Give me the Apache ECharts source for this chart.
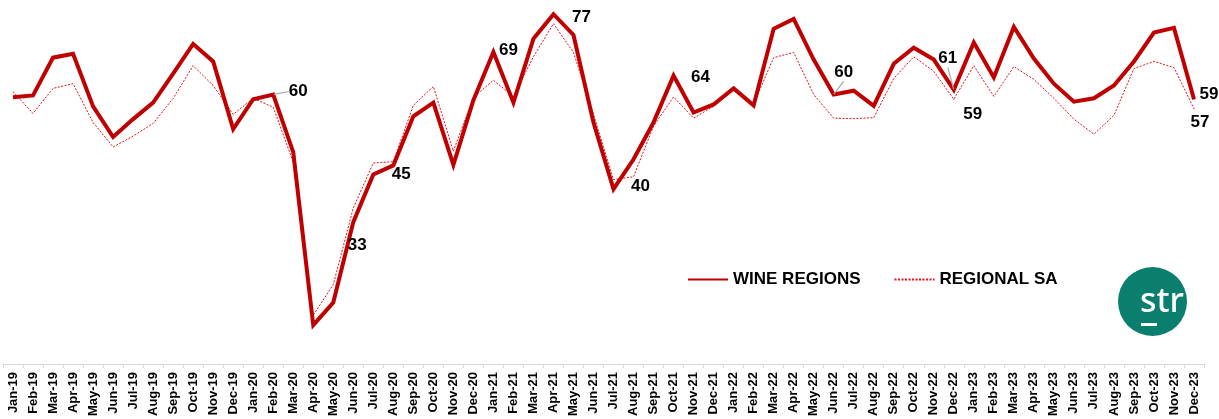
<!DOCTYPE html>
<html>
<head>
<meta charset="utf-8">
<title>Wine Regions vs Regional SA</title>
<script src="https://cdn.jsdelivr.net/npm/echarts@6/dist/echarts.min.js"></script>
<style>
  html, body { margin: 0; padding: 0; background: #ffffff; }
  #chart { width: 1219px; height: 419px; }
</style>
</head>
<body>
<div id="chart"></div>
<script>
// Monthly categories, Jan-19 to Dec-23
const months = [
  'Jan-19','Feb-19','Mar-19','Apr-19','May-19','Jun-19','Jul-19','Aug-19','Sep-19','Oct-19','Nov-19','Dec-19',
  'Jan-20','Feb-20','Mar-20','Apr-20','May-20','Jun-20','Jul-20','Aug-20','Sep-20','Oct-20','Nov-20','Dec-20',
  'Jan-21','Feb-21','Mar-21','Apr-21','May-21','Jun-21','Jul-21','Aug-21','Sep-21','Oct-21','Nov-21','Dec-21',
  'Jan-22','Feb-22','Mar-22','Apr-22','May-22','Jun-22','Jul-22','Aug-22','Sep-22','Oct-22','Nov-22','Dec-22',
  'Jan-23','Feb-23','Mar-23','Apr-23','May-23','Jun-23','Jul-23','Aug-23','Sep-23','Oct-23','Nov-23','Dec-23'
];

// WINE REGIONS
const wineRegions = [
  59.4, 59.8, 67.8, 68.6, 57.5, 51.0, 54.8, 58.3, 64.4, 70.7, 67.0, 52.7,
  59.0, 60,   47.8, 11.2, 16.0, 33,   43.1, 45,   55.4, 58.3, 45.1, 58.8,
  69,   58.3, 71.8, 77,   72.6, 54.1, 40,   46.3, 54.1, 64,   56.2, 57.9,
  61.3, 57.7, 73.9, 76.0, 67.4, 60,   60.8, 57.6, 66.5, 69.9, 67.4, 61,
  71.0, 63.6, 74.3, 67.6, 62.3, 58.5, 59.2, 61.9, 67.0, 73.1, 74.1, 59
];

// REGIONAL SA
const regionalSA = [
  60.6, 56.0, 61.3, 62.3, 54.1, 48.9, 51.2, 53.9, 59.2, 66.1, 61.9, 55.8,
  59.2, 57.3, 45.7, 13.3, 19.8, 36,   45.5, 45.8, 57.7, 61.7, 48.0, 59.4,
  63,   59.6, 68.0, 75,   68.9, 55.8, 42,   42.6, 53.3, 59.5, 55.0, 57.5,
  61.0, 58.0, 67.8, 68.9, 60.0, 55.0, 54.9, 55.1, 63.4, 68.0, 64.9, 59,
  66.1, 59.6, 65.9, 63.2, 59.2, 54.8, 51.6, 55.6, 65.5, 67.0, 65.7, 57
];

// Months that carry a value label on each line
const wineLabelled = ['Feb-20','Jun-20','Aug-20','Jan-21','Apr-21','Jul-21','Oct-21','Jun-22','Dec-22','Dec-23'];
const regionalLabelled = ['Dec-22','Dec-23'];

// Label placement relative to the point: [dx, dy, leader line]
const wineLabelPlacement = {
  'Feb-20': [25, -3, true], 'Jun-20': [4, 23], 'Aug-20': [8, 9], 'Jan-21': [15, -2],
  'Apr-21': [28, 3], 'Jul-21': [27, -3], 'Oct-21': [27, 2], 'Jun-22': [10, -22, true],
  'Dec-22': [-6, -31, true], 'Dec-23': [15, -5]
};
const regionalLabelPlacement = { 'Dec-22': [19, 15], 'Dec-23': [6, 14] };

const WINE_COLOR = '#c00000';
const SA_COLOR = '#e3101a';
const FONT = 'Arial, "Liberation Sans", Helvetica, sans-serif';

function buildData(values, labelled, color) {
  return values.map((v, i) => {
    if (labelled.indexOf(months[i]) === -1) return v;
    return {
      value: v,
      symbol: 'circle',
      symbolSize: 1,
      itemStyle: { color: color },
      label: {
        show: true,
        position: 'inside',
        formatter: (p) => String(Math.round(p.value)),
        color: '#000000',
        fontFamily: FONT,
        fontWeight: 'bold',
        fontSize: 17
      },
      labelLine: { show: false }
    };
  });
}

const wineData = buildData(wineRegions, wineLabelled, WINE_COLOR);
const saData = buildData(regionalSA, regionalLabelled, SA_COLOR);
Object.keys(wineLabelPlacement).forEach((m) => {
  if (wineLabelPlacement[m][2]) {
    wineData[months.indexOf(m)].labelLine = { show: true, lineStyle: { color: '#a6a6a6', width: 1.2 } };
  }
});

function placement(table) {
  return function (params) {
    const p = table[months[params.dataIndex]];
    if (!p) return {};
    return { dx: p[0], dy: p[1] };
  };
}

const chart = echarts.init(document.getElementById('chart'), null, { renderer: 'canvas' });

chart.setOption({
  animation: false,
  backgroundColor: '#ffffff',
  grid: { left: 3, right: 15, top: 0, bottom: 53, containLabel: false },
  legend: {
    left: 682,
    top: 266,
    itemWidth: 40,
    itemHeight: 14,
    itemGap: 33,
    selectedMode: false,
    data: ['WINE REGIONS', 'REGIONAL SA'],
    itemStyle: { opacity: 0 },
    textStyle: { color: '#000000', fontFamily: FONT, fontWeight: 'bold', fontSize: 17 }
  },
  xAxis: {
    type: 'category',
    data: months,
    boundaryGap: true,
    axisLine: { lineStyle: { color: '#d9d9d9', width: 1 } },
    axisTick: { show: true, length: 4, lineStyle: { color: '#d9d9d9' } },
    axisLabel: {
      interval: 0,
      rotate: 90,
      margin: 8,
      color: '#000000',
      fontFamily: FONT,
      fontWeight: 'bold',
      fontSize: 13
    },
    splitLine: { show: false }
  },
  yAxis: {
    type: 'value',
    min: 3,
    max: 80,
    show: false,
    splitLine: { show: false }
  },
  series: [
    {
      name: 'REGIONAL SA',
      type: 'line',
      data: saData,
      symbol: 'none',
      z: 2,
      lineStyle: { color: SA_COLOR, width: 1, type: [2, 1.5] },
      itemStyle: { color: SA_COLOR },
      labelLayout: placement(regionalLabelPlacement),
      emphasis: { disabled: true }
    },
    {
      name: 'WINE REGIONS',
      type: 'line',
      data: wineData,
      symbol: 'none',
      z: 3,
      lineStyle: { color: WINE_COLOR, width: 4, join: 'miter' },
      itemStyle: { color: WINE_COLOR },
      labelLayout: placement(wineLabelPlacement),
      emphasis: { disabled: true }
    }
  ],
  graphic: [
    {
      type: 'group',
      left: 1118,
      top: 267,
      children: [
        { type: 'circle', shape: { cx: 34.5, cy: 34.5, r: 34.5 }, style: { fill: '#0a7f6e' } },
        {
          type: 'text',
          x: 22,
          y: 52,
          style: {
            text: 'str',
            fill: '#ffffff',
            font: '500 34px "Noto Sans", "Open Sans", sans-serif',
            textVerticalAlign: 'bottom',
            textBaseline: 'alphabetic'
          }
        },
        { type: 'rect', shape: { x: 23, y: 56, width: 16, height: 3 }, style: { fill: '#ffffff' } }
      ]
    }
  ]
});
</script>
</body>
</html>
